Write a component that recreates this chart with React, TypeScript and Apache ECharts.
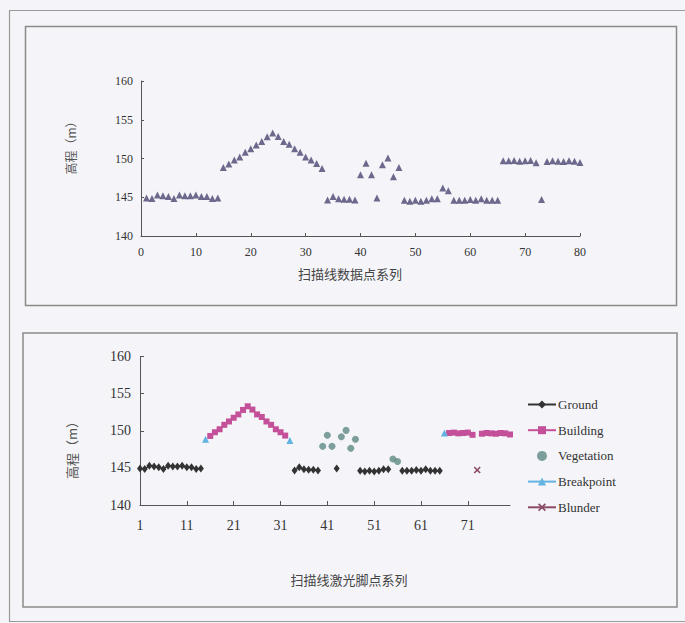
import { useEffect, useRef } from "react";
import * as echarts from "echarts";

// Scan-line point index (1..80) and elevation (m)
const pointIndex = Array.from({ length: 80 }, (_, i) => i + 1);
const elevation = [
  144.9, 144.85, 145.3, 145.2, 145.1, 144.85, 145.3, 145.2, 145.2, 145.3,
  145.1, 145.1, 144.85, 144.9, 148.85, 149.3, 149.8, 150.2, 150.8, 151.25,
  151.75, 152.2, 152.8, 153.3, 152.85, 152.2, 151.85, 151.25, 150.8, 150.2,
  149.8, 149.35, 148.7, 144.65, 145.1, 144.8, 144.75, 144.75, 144.65, 147.9,
  149.4, 147.9, 144.9, 149.2, 150.05, 147.65, 148.85, 144.6, 144.5, 144.6,
  144.5, 144.6, 144.8, 144.8, 146.2, 145.85, 144.6, 144.6, 144.6, 144.7,
  144.6, 144.8, 144.6, 144.6, 144.6, 149.7, 149.7, 149.75, 149.65, 149.7,
  149.75, 149.45, 144.7, 149.6, 149.7, 149.65, 149.6, 149.7, 149.65, 149.5,
];
// G = Ground, B = Building, V = Vegetation, P = Breakpoint, X = Blunder
const pointClass = [
  "G", "G", "G", "G", "G", "G", "G", "G", "G", "G",
  "G", "G", "G", "G", "P", "B", "B", "B", "B", "B",
  "B", "B", "B", "B", "B", "B", "B", "B", "B", "B",
  "B", "B", "P", "G", "G", "G", "G", "G", "G", "V",
  "V", "V", "G", "V", "V", "V", "V", "G", "G", "G",
  "G", "G", "G", "G", "V", "V", "G", "G", "G", "G",
  "G", "G", "G", "G", "G", "P", "B", "B", "B", "B",
  "B", "B", "X", "B", "B", "B", "B", "B", "B", "B",
];
const categories = pointIndex.map((n) => String(n));
const yTicks = [140, 145, 150, 155, 160];
const topXTicks = [0, 80, 10];

const classNames: Record<string, string> = {
  G: "Ground",
  B: "Building",
  V: "Vegetation",
  P: "Breakpoint",
  X: "Blunder",
};

const serif = "'Liberation Serif', 'DejaVu Serif', serif";
const cjk = "'Noto Sans CJK SC', sans-serif";
const BG = "#f5f5f9";

function classSeries(code: string) {
  return elevation.map((v, i) => (pointClass[i] === code ? v : null));
}

export default function App() {
  const ref = useRef<HTMLDivElement>(null);
  useEffect(() => {
    if (!ref.current) return;
    const chart = echarts.init(ref.current, null, { renderer: "svg" });
    const axisLine = { show: true, onZero: false, lineStyle: { color: "#555", width: 1 } };
    const option: any = {
      animation: false,
      backgroundColor: BG,
      graphic: [
        { type: "rect", shape: { x: 9.5, y: 10.5, width: 700, height: 611 }, style: { fill: "none", stroke: "#9a9a9a", lineWidth: 1.2 }, silent: true },
        { type: "rect", shape: { x: 25.5, y: 26.5, width: 651, height: 279 }, style: { fill: "none", stroke: "#8a8a8a", lineWidth: 1.5 }, silent: true },
        { type: "rect", shape: { x: 23, y: 333, width: 654, height: 274 }, style: { fill: "none", stroke: "#8a8a8a", lineWidth: 1.5 }, silent: true },
        { type: "text", x: 350, y: 273, style: { text: "扫描线数据点系列", font: `13px ${cjk}`, fill: "#444", align: "center", verticalAlign: "middle" } },
        { type: "text", x: 349, y: 579, style: { text: "扫描线激光脚点系列", font: `13px ${cjk}`, fill: "#444", align: "center", verticalAlign: "middle" } },
        { type: "text", x: 70, y: 145, rotation: Math.PI / 2, style: { text: "高程（m）", font: `12px ${cjk}`, fill: "#555", align: "center", verticalAlign: "middle" } },
        { type: "text", x: 71, y: 447, rotation: Math.PI / 2, style: { text: "高程（m）", font: `13px ${cjk}`, fill: "#555", align: "center", verticalAlign: "middle" } },
      ],
      grid: [
        { left: 141, top: 81, width: 439, height: 155 },
        { left: 140, top: 356.5, width: 370, height: 148.5 },
      ],
      xAxis: [
        {
          gridIndex: 0,
          type: "value",
          min: topXTicks[0],
          max: topXTicks[1],
          interval: topXTicks[2],
          axisLine,
          axisTick: { show: true, inside: true, length: 3, lineStyle: { color: "#555" } },
          axisLabel: { fontFamily: serif, fontSize: 12, color: "#333", margin: 10 },
          splitLine: { show: false },
        },
        {
          gridIndex: 1,
          type: "category",
          data: categories,
          boundaryGap: false,
          axisLine,
          axisTick: { show: true, inside: true, length: 4, interval: 9, lineStyle: { color: "#555" } },
          axisLabel: { interval: 9, fontFamily: serif, fontSize: 14, color: "#333", margin: 13 },
          splitLine: { show: false },
        },
      ],
      yAxis: [
        {
          gridIndex: 0,
          type: "value",
          min: yTicks[0],
          max: yTicks[yTicks.length - 1],
          interval: yTicks[1] - yTicks[0],
          axisLine,
          axisTick: { show: true, inside: true, length: 3, lineStyle: { color: "#555" } },
          axisLabel: { fontFamily: serif, fontSize: 12, color: "#333", margin: 8 },
          splitLine: { show: false },
        },
        {
          gridIndex: 1,
          type: "value",
          min: yTicks[0],
          max: yTicks[yTicks.length - 1],
          interval: yTicks[1] - yTicks[0],
          axisLine,
          axisTick: { show: true, inside: true, length: 4, lineStyle: { color: "#555" } },
          axisLabel: { fontFamily: serif, fontSize: 14, color: "#333", margin: 9 },
          splitLine: { show: false },
        },
      ],
      legend: {
        orient: "vertical",
        left: 527,
        top: 398,
        padding: 0,
        itemGap: 12.7,
        itemWidth: 28,
        itemHeight: 10,
        textStyle: { fontFamily: serif, fontSize: 13, color: "#333", padding: [0, 0, 0, -3] },
        data: ["Ground", "Building", "Vegetation", "Breakpoint", "Blunder"],
      },
      series: [
        {
          type: "scatter",
          xAxisIndex: 0,
          yAxisIndex: 0,
          symbol: "triangle",
          symbolSize: 7,
          itemStyle: { color: "#4a4672" },
          data: elevation.map((v, i) => [pointIndex[i], v]),
        },
        {
          name: classNames.G,
          type: "line",
          xAxisIndex: 1,
          yAxisIndex: 1,
          symbol: "diamond",
          symbolSize: [6, 8],
          showAllSymbol: true,
          connectNulls: false,
          itemStyle: { color: "#333333" },
          lineStyle: { color: "#333333", width: 1.5 },
          data: classSeries("G"),
        },
        {
          name: classNames.B,
          type: "line",
          xAxisIndex: 1,
          yAxisIndex: 1,
          symbol: "rect",
          symbolSize: 6,
          showAllSymbol: true,
          connectNulls: false,
          itemStyle: { color: "#c4509a" },
          lineStyle: { color: "#c4509a", width: 1.5 },
          data: classSeries("B"),
        },
        {
          name: classNames.V,
          type: "scatter",
          xAxisIndex: 1,
          yAxisIndex: 1,
          symbol: "circle",
          symbolSize: 7,
          itemStyle: { color: "#5e8a84" },
          data: classSeries("V").map((v, i) => (v === null ? null : [i, v])).filter((d) => d !== null),
        },
        {
          name: classNames.P,
          type: "line",
          xAxisIndex: 1,
          yAxisIndex: 1,
          symbol: "triangle",
          symbolSize: 7,
          showAllSymbol: true,
          connectNulls: false,
          itemStyle: { color: "#62b2e2" },
          lineStyle: { color: "#62b2e2", width: 1.5 },
          data: classSeries("P"),
        },
        {
          name: classNames.X,
          type: "line",
          xAxisIndex: 1,
          yAxisIndex: 1,
          symbol: "path://M0,1.5L1.5,0L5,3.5L8.5,0L10,1.5L6.5,5L10,8.5L8.5,10L5,6.5L1.5,10L0,8.5L3.5,5Z",
          symbolSize: 7,
          showAllSymbol: true,
          connectNulls: false,
          itemStyle: { color: "#8a4a68" },
          lineStyle: { color: "#8a4a68", width: 1.5 },
          data: classSeries("X"),
        },
      ],
    };
    chart.setOption(option);
    return () => chart.dispose();
  }, []);
  return (
    <div
      ref={ref}
      style={{ position: "fixed", left: 0, top: 0, width: 685, height: 623, background: BG }}
    />
  );
}
